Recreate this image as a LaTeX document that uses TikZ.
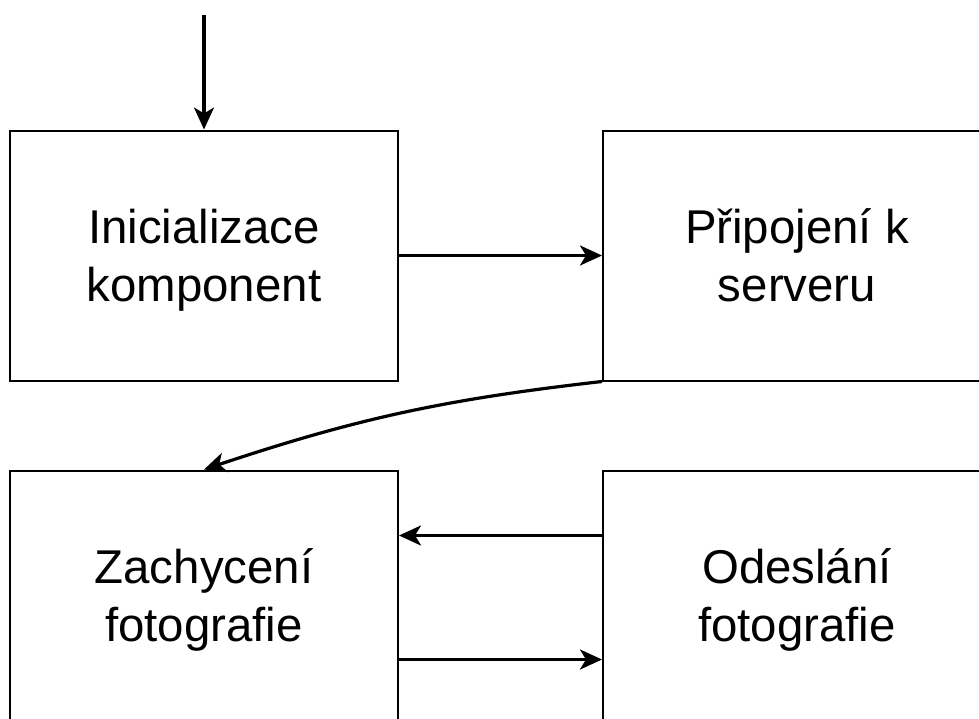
\documentclass[tikz,border=0pt]{standalone}
\usepackage{fontspec}
\setmainfont{Liberation Sans}
\usetikzlibrary{arrows.meta}
\begin{document}
\begin{tikzpicture}[x=0.5pt,y=-0.5pt,>={Stealth[length=11pt,width=10pt,inset=3pt]},
  box/.style={draw,line width=1pt,minimum width=194pt,minimum height=125pt,
    align=center,text height=51.5pt,text depth=6pt,
    font=\fontsize{23.7}{29}\selectfont},
  flow/.style={->,line width=1.6pt}]
\useasboundingbox (0,0) rectangle (979,718);
\clip (0,0) rectangle (979,718);

\node[box] (init) at (204,255.5) {Inicializace\\komponent};
\node[box] (connect) at (797,255.5) {Připojení k\\serveru};
\node[box] (capture) at (204,595.5) {Zachycení\\fotografie};
\node[box] (send) at (797,595.5) {Odeslání\\fotografie};
\coordinate (start) at (204,15);

\draw[flow] (start)--(init.north);
\draw[flow] (init.east)--(connect.west);
\draw[flow] (connect.south west) to[bend right=6] (capture.north);
\draw[flow] ([yshift=30pt]send.west)--([yshift=30pt]capture.east);
\draw[flow] ([yshift=-32pt]capture.east)--([yshift=-32pt]send.west);
\end{tikzpicture}
\end{document}
